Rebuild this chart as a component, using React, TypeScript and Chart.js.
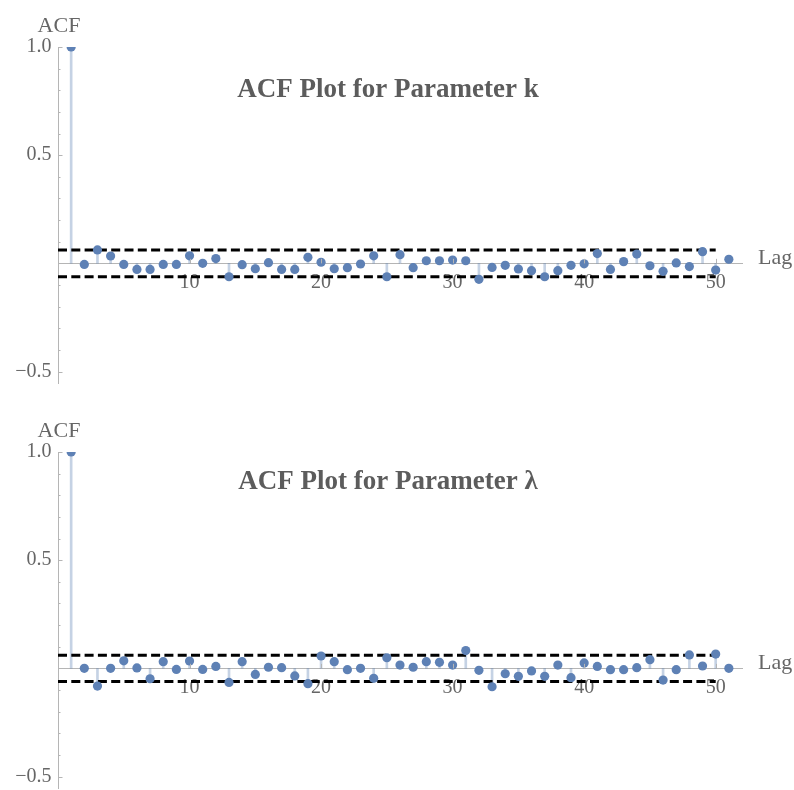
import React, { useEffect, useRef } from 'react';
import { Chart, registerables } from 'chart.js';

Chart.register(...registerables);

// ---------- data ----------
const lags = [
  1, 2, 3, 4, 5, 6, 7, 8, 9, 10, 11, 12, 13, 14, 15, 16, 17, 18, 19, 20,
  21, 22, 23, 24, 25, 26, 27, 28, 29, 30, 31, 32, 33, 34, 35, 36, 37, 38, 39, 40,
  41, 42, 43, 44, 45, 46, 47, 48, 49, 50, 51,
];

const acfK = [
  1.0, -0.005, 0.062, 0.034, -0.005, -0.028, -0.028, -0.005, -0.005, 0.035,
  0.0, 0.022, -0.062, -0.006, -0.025, 0.003, -0.028, -0.028, 0.028, 0.005,
  -0.025, -0.02, -0.003, 0.035, -0.062, 0.04, -0.02, 0.012, 0.012, 0.015,
  0.012, -0.074, -0.019, -0.009, -0.026, -0.034, -0.062, -0.034, -0.009, -0.002,
  0.045, -0.028, 0.008, 0.043, -0.011, -0.037, 0.002, -0.015, 0.054, -0.031,
  0.019,
];

const acfLambda = [
  1.0, 0.0, -0.082, 0.0, 0.035, 0.002, -0.048, 0.031, -0.005, 0.034,
  -0.005, 0.009, -0.065, 0.031, -0.028, 0.005, 0.003, -0.035, -0.071, 0.057,
  0.031, -0.006, 0.0, -0.046, 0.049, 0.015, 0.005, 0.031, 0.028, 0.015,
  0.082, -0.009, -0.085, -0.025, -0.037, -0.012, -0.037, 0.015, -0.043, 0.025,
  0.009, -0.006, -0.006, 0.003, 0.04, -0.054, -0.006, 0.062, 0.011, 0.066,
  0.0,
];

const bandK = 0.062;
const bandLambda = 0.061;
const bandLagRange = [0, 50];

const xRange = [0, 52];
const yRange = [-0.553, 1.0];

const xTickValues = [10, 20, 30, 40, 50];
const xTickLabels = ['10', '20', '30', '40', '50'];
const yTickValues = [-0.5, 0.5, 1.0];
const yTickLabels = ['\u22120.5', '0.5', '1.0'];
const yMinorTicks = [-0.5, -0.4, -0.3, -0.2, -0.1, 0.1, 0.2, 0.3, 0.4, 0.5, 0.6, 0.7, 0.8, 0.9, 1.0];
const yMajorTicks = [-0.5, 0.5, 1.0];

const titleK = 'ACF Plot for Parameter k';
const titleLambda = 'ACF Plot for Parameter \u03bb';

// ---------- styles ----------
const pointColor = '#5e81b5';
const stemColor = 'rgba(94,129,181,0.36)';
const axisColor = '#b5b5b5';
const textColor = '#666666';
const titleColor = '#5c5c5c';
const serif = '"Liberation Serif", "Times New Roman", serif';

type Props = {
  values: number[];
  band: number;
  title: string;
  titleBaseline: number;
  height: number;
  top: number;
};

function AcfChart({ values, band, title, titleBaseline, height, top }: Props) {
  const ref = useRef<HTMLCanvasElement>(null);

  useEffect(() => {
    if (!ref.current) return;
    const points = lags.map((l, i) => ({ x: l, y: values[i] }));

    const decor = {
      id: 'decor',
      afterDraw(chart: any) {
        const { ctx, scales } = chart;
        const xs = scales.x;
        const ys = scales.y;
        const x0 = xs.getPixelForValue(0);
        const y0 = ys.getPixelForValue(0);
        ctx.save();
        // y ticks (pointing inward)
        ctx.strokeStyle = axisColor;
        ctx.lineWidth = 1;
        yMinorTicks.forEach((v) => {
          const py = Math.round(ys.getPixelForValue(v)) + 0.5;
          const len = yMajorTicks.includes(v) ? 4.5 : 2.5;
          ctx.beginPath();
          ctx.moveTo(x0, py);
          ctx.lineTo(x0 + len, py);
          ctx.stroke();
        });
        // x ticks (pointing up)
        xTickValues.forEach((v) => {
          const px = Math.round(xs.getPixelForValue(v)) + 0.5;
          ctx.beginPath();
          ctx.moveTo(px, y0);
          ctx.lineTo(px, y0 - 4.5);
          ctx.stroke();
        });
        // axis labels
        ctx.fillStyle = textColor;
        ctx.font = `22px ${serif}`;
        ctx.textBaseline = 'alphabetic';
        ctx.textAlign = 'center';
        ctx.fillText('ACF', x0 + 1, 31.5);
        ctx.textAlign = 'left';
        ctx.fillText('Lag', xs.right + 16, y0 + 1);
        // title
        ctx.fillStyle = titleColor;
        ctx.font = `bold 27px ${serif}`;
        ctx.textAlign = 'center';
        ctx.fillText(title, 388, titleBaseline);
        ctx.restore();
      },
    };

    const chart = new Chart(ref.current, {
      type: 'scatter',
      data: {
        datasets: [
          {
            type: 'bar',
            data: points,
            backgroundColor: stemColor,
            borderWidth: 0,
            barThickness: 2,
            grouped: false,
            order: 4,
          } as any,
          {
            type: 'scatter',
            data: [
              { x: bandLagRange[0], y: band },
              { x: bandLagRange[1], y: band },
            ],
            showLine: true,
            borderColor: '#000000',
            borderWidth: 3,
            borderDash: [9, 4.3],
            pointRadius: 0,
            order: 3,
          },
          {
            type: 'scatter',
            data: [
              { x: bandLagRange[0], y: -band },
              { x: bandLagRange[1], y: -band },
            ],
            showLine: true,
            borderColor: '#000000',
            borderWidth: 3,
            borderDash: [9, 4.3],
            pointRadius: 0,
            order: 2,
          },
          {
            type: 'scatter',
            data: points,
            pointRadius: 4.6,
            pointBackgroundColor: pointColor,
            backgroundColor: pointColor,
            pointBorderWidth: 0,
            borderWidth: 0,
            clip: 0,
            order: 1,
          } as any,
        ],
      },
      options: {
        responsive: false,
        animation: false,
        devicePixelRatio: 1,
        events: [],
        layout: {
          autoPadding: false,
          padding: { left: 0, right: 52, top: 47, bottom: height - 383 },
        },
        plugins: {
          legend: { display: false },
          tooltip: { enabled: false },
          title: { display: false },
        },
        scales: {
          x: {
            type: 'linear',
            min: xRange[0],
            max: xRange[1],
            offset: false,
            position: { y: 0 } as any,
            grid: { display: false, drawTicks: false },
            border: { display: true, color: axisColor, width: 1 },
            ticks: {
              color: textColor,
              font: { family: serif, size: 20 },
              padding: 7,
              maxRotation: 0,
              autoSkip: false,
              callback: (_v: any, i: number) => xTickLabels[i],
            },
            afterBuildTicks: (s: any) => {
              s.ticks = xTickValues.map((v) => ({ value: v }));
            },
            afterFit: (s: any) => {
              s.height = 0;
              s.paddingLeft = 0;
              s.paddingRight = 0;
            },
          },
          y: {
            type: 'linear',
            min: yRange[0],
            max: yRange[1],
            position: 'left',
            grid: { display: false, drawTicks: false },
            border: { display: true, color: axisColor, width: 1 },
            ticks: {
              color: textColor,
              font: { family: serif, size: 20 },
              padding: 6.5,
              autoSkip: false,
              callback: (_v: any, i: number) => yTickLabels[i],
            },
            afterBuildTicks: (s: any) => {
              s.ticks = yTickValues.map((v) => ({ value: v }));
            },
            afterFit: (s: any) => {
              s.width = 58;
              s.paddingTop = 0;
              s.paddingBottom = 0;
            },
          },
        },
      } as any,
      plugins: [decor],
    });
    return () => chart.destroy();
  }, [values, band, title, titleBaseline, height]);

  return (
    <canvas
      ref={ref}
      width={794}
      height={height}
      style={{ position: 'absolute', left: 0, top, display: 'block' }}
    />
  );
}

export default function App() {
  return (
    <div style={{ position: 'absolute', left: 0, top: 0, width: 794, height: 790, background: '#ffffff' }}>
      <AcfChart values={acfK} band={bandK} title={titleK} titleBaseline={97} height={400} top={0} />
      <AcfChart values={acfLambda} band={bandLambda} title={titleLambda} titleBaseline={84.3} height={385} top={405} />
    </div>
  );
}
